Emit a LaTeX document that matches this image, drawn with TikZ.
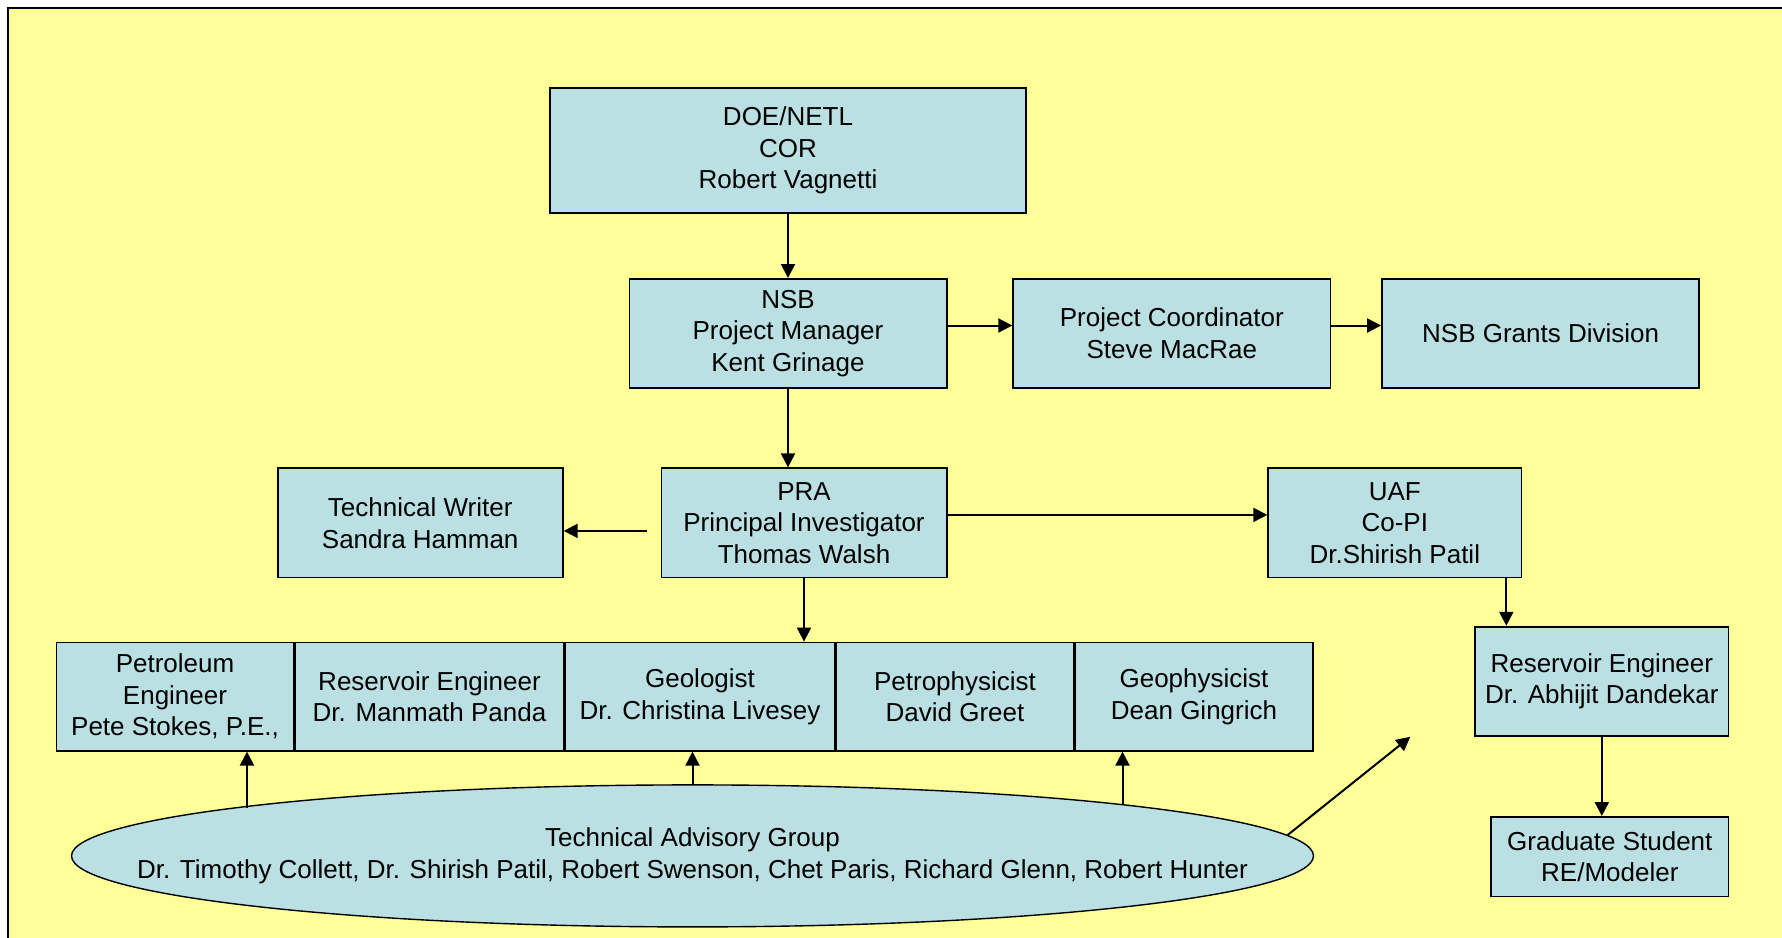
\documentclass[tikz,border=0pt]{standalone}
\usepackage{fontspec}
\setmainfont{Liberation Sans}
\usetikzlibrary{shapes.geometric, arrows.meta, positioning}
\definecolor{bgyellow}{RGB}{255, 255, 153}
\definecolor{boxblue}{RGB}{186, 224, 228}
\tikzstyle{unit} = [rectangle, minimum height=54.6pt, text centered, align=center, draw=black, line width=0.9pt, fill=boxblue, inner sep=2pt, font=\fontsize{13}{15.8}\selectfont]
\tikzstyle{cell} = [unit, line width=0.6pt, minimum height=54.4pt]
\tikzstyle{panel} = [ellipse, minimum width=621pt, minimum height=71pt, inner xsep=-60pt, inner ysep=0pt, text centered, align=center, draw=black, line width=0.7pt, fill=boxblue, font=\fontsize{13}{15.8}\selectfont]
\tikzstyle{arrow} = [line width=1pt, -{Triangle[length=7pt, width=7pt]}]

\begin{document}
\begin{tikzpicture}

\useasboundingbox (0,0) rectangle (891pt,-468.5pt);
% yellow sheet
\draw [fill=bgyellow, line width=1pt] (4pt,-4pt) rectangle (910pt,-490pt);

% management chain
\node (doe) [unit, minimum width=238pt, minimum height=62.6pt] at (394pt,-75.25pt) {DOE/NETL\\COR\\Robert Vagnetti};
\node (nsb) [unit, below=32pt of doe, minimum width=158.6pt] {NSB\\Project Manager\\Kent Grinage};
\node (coord) [unit, right=32.4pt of nsb, minimum width=158.6pt] {Project Coordinator\\Steve MacRae};
\node (grants) [unit, right=24.9pt of coord, minimum width=158.6pt] {NSB Grants Division};
\node (pra) [unit, below=39.2pt of nsb, xshift=8pt, minimum width=142.6pt] {PRA\\Principal Investigator\\Thomas Walsh};
\node (writer) [unit, left=48.4pt of pra, minimum width=142.6pt] {Technical Writer\\Sandra Hamman};
\node (uaf) [unit, right=159.9pt of pra, minimum width=126.6pt] {UAF\\Co-PI\\Dr.Shirish Patil};

% technical team row
\node (geol) [cell, below=31.6pt of pra, xshift=-52pt, minimum width=134.9pt] {Geologist\\Dr. Christina Livesey};
\node (panda) [cell, left=0pt of geol, minimum width=134.4pt] {Reservoir Engineer\\Dr. Manmath Panda};
\node (petro) [cell, left=0pt of panda, minimum width=118.9pt] {Petroleum\\Engineer\\Pete Stokes, P.E.,};
\node (petrophys) [cell, right=0pt of geol, minimum width=118.9pt] {Petrophysicist\\David Greet};
\node (geophys) [cell, right=0pt of petrophys, minimum width=118.9pt] {Geophysicist\\Dean Gingrich};

% UAF branch
\node (dandekar) [unit, below=23.7pt of uaf, xshift=103.5pt, minimum width=126.6pt] {Reservoir Engineer\\Dr. Abhijit Dandekar};
\node (grad) [unit, below=39.6pt of dandekar.south east, anchor=north east, minimum width=118.6pt, minimum height=39.8pt] {Graduate Student\\RE/Modeler};

% advisory group
\node (tag) [panel, below=16.3pt of geol, xshift=-3.75pt] {Technical Advisory Group\\Dr. Timothy Collett, Dr. Shirish Patil, Robert Swenson, Chet Paris, Richard Glenn, Robert Hunter};

% reporting lines
\draw [arrow] (doe) -- (nsb);
\draw [arrow] (nsb) -- (nsb |- pra.north);
\draw [arrow] ([yshift=4pt]nsb.east) -- ([yshift=4pt]coord.west);
\draw [arrow] ([yshift=4pt]coord.east) -- ([yshift=4pt]grants.west);
\draw [arrow] ([shift={(-7pt,-4pt)}]pra.west) -- ([yshift=-4pt]writer.east);
\draw [arrow] ([yshift=4pt]pra.east) -- ([yshift=4pt]uaf.west);
\draw [arrow] (pra) -- (pra |- geol.north);
\coordinate (uafdrop) at ([xshift=-8pt]uaf.south east);
\draw [arrow] (uafdrop) -- (uafdrop |- dandekar.north);
\draw [arrow] (dandekar) -- (dandekar |- grad.north);

% advice lines
\coordinate (petroup) at ([xshift=36pt]petro.south);
\coordinate (geoup) at ([xshift=24pt]geophys.south west);
\coordinate (tagtip) at ([xshift=-32pt]dandekar.south west);
\draw [arrow] (petroup |- tag.174) -- (petroup);
\draw [arrow] (tag) -- (tag |- geol.south);
\draw [arrow] (geoup |- tag.7) -- (geoup);
\draw [arrow] (tag.2) -- (tagtip);

\end{tikzpicture}
\end{document}
